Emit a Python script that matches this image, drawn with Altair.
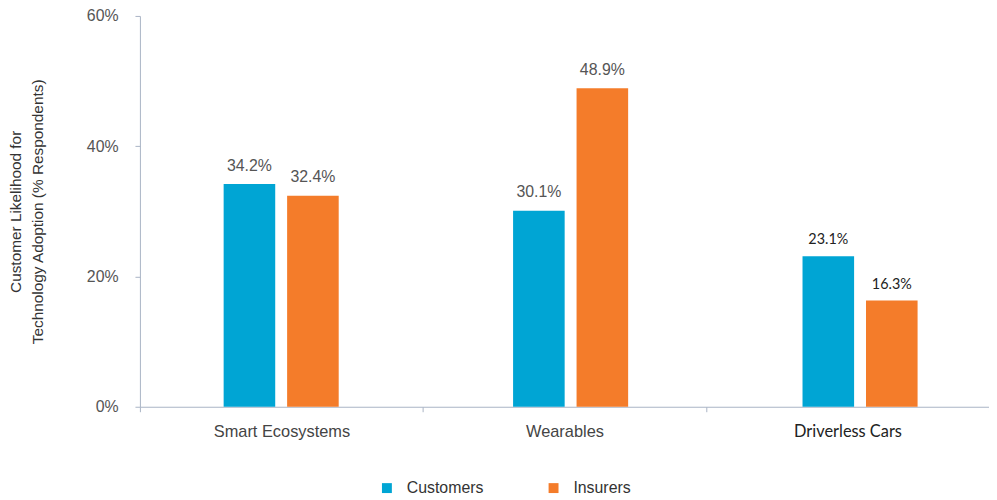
import altair as alt
import pandas as pd

categories = ["Smart Ecosystems", "Wearables", "Driverless Cars"]
series = ["Customers", "Insurers"]
customers = [34.2, 30.1, 23.1]
insurers = [32.4, 48.9, 16.3]
colors = ["#00A5D4", "#F47C2A"]
y_ticks = [0, 20, 40, 60]

rows = []
for i, c in enumerate(categories):
    rows.append({"category": c, "series": series[0], "value": customers[i]})
    rows.append({"category": c, "series": series[1], "value": insurers[i]})
df = pd.DataFrame(rows)
df["label"] = df["value"].map(lambda v: f"{v:.1f}%")
df["cat_axis"] = df["category"]

AXIS_COLOR = "#A9B3C4"
W = 856
H = 394
group = 116
bar_step = 291.8
bar_start = -3.5
bar_range = [bar_start, bar_start + 3 * bar_step]

x_bars = alt.X(
    "category:N",
    sort=categories,
    scale=alt.Scale(paddingInner=0, paddingOuter=0, range=bar_range),
    axis=None,
)
xoff = alt.XOffset(
    "series:N",
    sort=series,
    scale=alt.Scale(range=[bar_step / 2 - group / 2, bar_step / 2 + group / 2], paddingInner=0.1875, paddingOuter=0),
)
y_enc = alt.Y(
    "value:Q",
    scale=alt.Scale(domain=[0, 60]),
    axis=alt.Axis(
        title=["Customer Likelihood for", "Technology Adoption (% Respondents)"],
        titleFont="Liberation Sans",
        titleFontSize=15.5,
        titleFontWeight="normal",
        titleColor="#333333",
        titleLineHeight=22,
        titlePadding=41,
        values=y_ticks,
        labelExpr="datum.value + '%'",
        labelFont="Liberation Sans",
        labelFontSize=16,
        labelColor="#555555",
        labelPadding=17,
        tickSize=5,
        tickColor=AXIS_COLOR,
        domainColor=AXIS_COLOR,
        grid=False,
    ),
)

base = alt.Chart(df).encode(x=x_bars, xOffset=xoff)

bars = base.mark_bar().encode(
    y=y_enc,
    color=alt.Color(
        "series:N",
        sort=series,
        scale=alt.Scale(domain=series, range=colors),
        legend=alt.Legend(
            title=None,
            orient="none",
            direction="horizontal",
            legendX=241,
            legendY=468,
            symbolType="square",
            symbolSize=100,
            symbolStrokeWidth=0,
            labelFont="Liberation Sans",
            labelFontSize=16,
            labelColor="#333333",
            labelOffset=12,
            columnPadding=62,
            padding=0,
        ),
    ),
)

labels_main = base.transform_filter("datum.category !== 'Driverless Cars'").mark_text(
    dy=-13.5, baseline="alphabetic", font="Liberation Sans", fontSize=16, color="#555555"
).encode(y="value:Q", text="label:N")

labels_dc = base.transform_filter("datum.category === 'Driverless Cars'").mark_text(
    dy=-12, baseline="alphabetic", font="Lato", fontSize=14.5, color="#222222"
).encode(y="value:Q", text="label:N")

data_layer = alt.layer(bars, labels_main, labels_dc)

axis_layer = alt.Chart(df).mark_point(opacity=0).encode(
    x=alt.X(
        "cat_axis:N",
        sort=categories,
        scale=alt.Scale(paddingInner=0, paddingOuter=0),
        axis=alt.Axis(
            title=None,
            orient="bottom",
            labelAngle=0,
            tickBand="extent",
            domainColor=AXIS_COLOR,
            tickColor=AXIS_COLOR,
            tickSize=5,
            labelPadding=12,
            labelFontSize=16.5,
            labelColor={"condition": {"test": "datum.value === 'Driverless Cars'", "value": "#222222"}, "value": "#444444"},
            labelFont={"condition": {"test": "datum.value === 'Driverless Cars'", "value": "Lato"}, "value": "Liberation Sans"},
        ),
    ),
    y=alt.Y("value:Q"),
)

chart = (
    alt.layer(data_layer, axis_layer)
    .resolve_scale(x="independent")
    .properties(
        width=W,
        height=H,
        autosize=alt.AutoSizeParams(type="none"),
        padding={"left": 133, "top": 6, "right": 0, "bottom": 92},
    )
    .configure_view(stroke=None)
)

chart.save("out.html", embed_options={"renderer": "svg", "actions": False})
